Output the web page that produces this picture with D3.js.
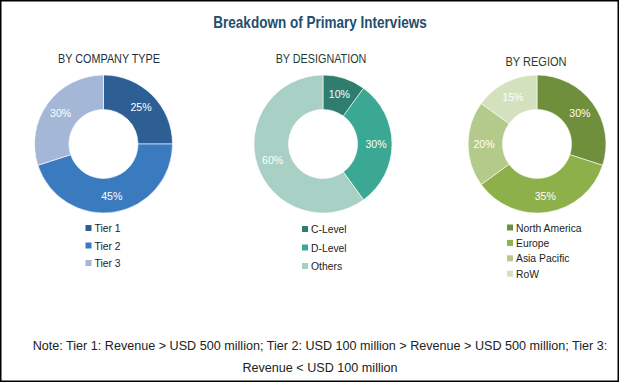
<!DOCTYPE html>
<html>
<head>
<meta charset="utf-8">
<script src="https://cdn.jsdelivr.net/npm/d3@7"></script>
<style>
  body { margin: 0; background: #fff; }
  text { font-family: "Liberation Sans", Arial, sans-serif; }
</style>
</head>
<body>
<div id="chart"></div>
<script>
const companyLabels = ["Tier 1", "Tier 2", "Tier 3"];
const companyValues = [25, 45, 30];
const designationLabels = ["C-Level", "D-Level", "Others"];
const designationValues = [10, 30, 60];
const regionLabels = ["North America", "Europe", "Asia Pacific", "RoW"];
const regionValues = [30, 35, 20, 15];

const width = 619, height = 382;

const svg = d3.select("#chart")
  .append("svg")
    .attr("width", width)
    .attr("height", height);

// narrow look: squeeze text horizontally
function squeeze(x, y, sx) {
  return "translate(" + x + "," + y + ") scale(" + sx + ",1)";
}

svg.append("rect")
    .attr("x", 0.75).attr("y", 0.75)
    .attr("width", width - 1.5).attr("height", height - 1.5)
    .attr("fill", "#fff")
    .attr("stroke", "#000")
    .attr("stroke-width", 1.5);

svg.append("text")
    .attr("transform", squeeze(320, 27.5, 0.82))
    .attr("text-anchor", "middle")
    .attr("font-size", 16.5)
    .attr("font-weight", "bold")
    .attr("fill", "#1f4e6e")
    .text("Breakdown of Primary Interviews");

const panels = [
  {title: "BY COMPANY TYPE", labels: companyLabels, values: companyValues,
   colors: ["#2d5f95", "#3a7bc0", "#a5b7d7"], cx: 103.5, tx: 109, ty: 63, tsx: 0.9,
   titleColor: "#1f2f40", legX: 88.5, legY: 228, legStep: 17.5},
  {title: "BY DESIGNATION", labels: designationLabels, values: designationValues,
   colors: ["#2e7d6e", "#3aa892", "#a8d0c4"], cx: 323, tx: 321, ty: 63, tsx: 0.9,
   titleColor: "#1f3a36", legX: 305, legY: 229, legStep: 18.5},
  {title: "BY REGION", labels: regionLabels, values: regionValues,
   colors: ["#708f3c", "#8db04a", "#b3ca8a", "#d3e1bf"], cx: 537, tx: 536, ty: 66, tsx: 0.92,
   titleColor: "#2e3a22", legX: 510, legY: 227.5, legStep: 15.4}
];

const cy = 144, outerR = 69, innerR = 34.5;

const pie = d3.pie().sort(null).value(d => d);
const arc = d3.arc().innerRadius(innerR).outerRadius(outerR);
const labelArc = d3.arc().innerRadius(53).outerRadius(53);

panels.forEach(p => {
  svg.append("text")
      .attr("transform", squeeze(p.tx, p.ty, p.tsx))
      .attr("text-anchor", "middle")
      .attr("font-size", 12)
      .attr("fill", p.titleColor)
      .text(p.title);

  const color = d3.scaleOrdinal().domain(p.labels).range(p.colors);
  const arcs = pie(p.values);

  const g = svg.append("g")
      .attr("transform", "translate(" + p.cx + "," + cy + ")");

  g.selectAll("path")
    .data(arcs)
    .enter()
    .append("path")
      .attr("d", arc)
      .attr("fill", (d, i) => color(p.labels[i]))
      .attr("stroke", "#fff")
      .attr("stroke-width", 0.6);

  g.selectAll("text.pct")
    .data(arcs)
    .enter()
    .append("text")
      .attr("class", "pct")
      .attr("transform", d => {
        const c = labelArc.centroid(d);
        return squeeze(c[0], c[1], 0.92);
      })
      .attr("text-anchor", "middle")
      .attr("dy", "0.35em")
      .attr("font-size", 11.5)
      .attr("fill", "#fff")
      .text(d => d.data + "%");

  const items = svg.append("g").selectAll("g")
    .data(p.labels)
    .enter()
    .append("g")
      .attr("transform", (d, i) => "translate(" + p.legX + "," + (p.legY + i * p.legStep) + ")");
  items.append("rect")
      .attr("x", -3).attr("y", -3)
      .attr("width", 6).attr("height", 6)
      .attr("fill", d => color(d));
  items.append("text")
      .attr("transform", squeeze(6, 0, 0.9))
      .attr("dy", "0.35em")
      .attr("font-size", 11.5)
      .attr("fill", "#222")
      .text(d => d);
});

const note = svg.append("text")
    .attr("transform", squeeze(320, 0, 0.97))
    .attr("text-anchor", "middle")
    .attr("font-size", 13)
    .attr("fill", "#222");
note.append("tspan").attr("x", 0).attr("y", 350)
    .text("Note: Tier 1: Revenue > USD 500 million; Tier 2: USD 100 million > Revenue > USD 500 million; Tier 3:");
note.append("tspan").attr("x", 0).attr("y", 372)
    .text("Revenue < USD 100 million");
</script>
</body>
</html>
